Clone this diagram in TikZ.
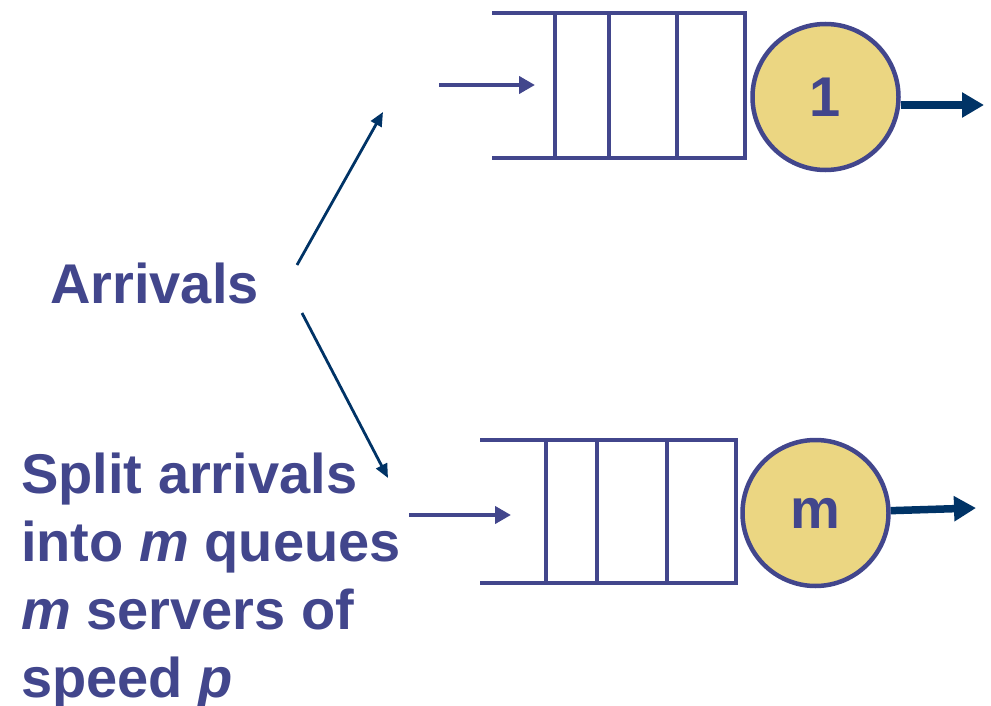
\documentclass[tikz,border=0pt]{standalone}
\usepackage{fontspec}
\setmainfont{Liberation Sans}
\usetikzlibrary{arrows.meta}
\definecolor{qblue}{RGB}{66,70,140}
\definecolor{navy}{RGB}{0,51,102}
\definecolor{srvfill}{RGB}{235,214,130}
\begin{document}
\begin{tikzpicture}[x=1pt,y=-1pt,
  qline/.style={draw=qblue,line width=4.5pt},
  server/.style={circle,draw=qblue,line width=4.5pt,fill=srvfill,minimum size=146pt,inner sep=0pt,text=qblue,font=\fontsize{56}{66}\selectfont\bfseries},
  inarrow/.style={draw=qblue,line width=4.5pt,-{Triangle[length=16pt,width=17pt]}},
  outarrow/.style={draw=navy,line width=7.5pt,-{Triangle[length=22pt,width=24pt]}},
  diagarrow/.style={draw=navy,line width=2.8pt,-{Triangle[length=14pt,width=12pt]}},
  txt/.style={anchor=base west,inner sep=0pt,text=qblue,font=\fontsize{56}{67}\selectfont\bfseries}]
\path[use as bounding box] (0,0) rectangle (991,706);

% top queue
\draw[qline] (492,13) -- (555,13) (492,158) -- (555,158);
\draw[qline] (555,13) rectangle (609,158);
\draw[qline] (609,13) rectangle (677,158);
\draw[qline] (677,13) rectangle (745,158);
\node[server] (s1) at (825.5,97) {1};

% bottom queue
\draw[qline] (480,440) -- (546,440) (480,583) -- (546,583);
\draw[qline] (546,440) rectangle (597,583);
\draw[qline] (597,440) rectangle (667,583);
\draw[qline] (667,440) rectangle (736,583);
\node[server] (sm) at (815.5,513) {m};

% coordinates
\coordinate (in1a) at (439,85);
\coordinate (in1b) at (535,85);
\coordinate (out1) at (984,105);
\coordinate (inma) at (409,515);
\coordinate (inmb) at (511,515);
\coordinate (outm) at (976,508);
\coordinate (d1a) at (297,265);
\coordinate (d1b) at (383,112);
\coordinate (d2a) at (302,313);
\coordinate (d2b) at (388,478);

% arrows
\draw[inarrow] (in1a) -- (in1b);
\draw[inarrow] (inma) -- (inmb);
\draw[outarrow] (s1.east |- out1) -- (out1);
\draw[outarrow] (sm) -- (outm);
\draw[diagarrow] (d1a) -- (d1b);
\draw[diagarrow] (d2a) -- (d2b);

% texts
\node[txt] (arr) at (50,303) {Arrivals};
\node[txt] (t1) at (21,493) {Split arrivals};
\node[txt] (t2) at (21,561) {into \textit{m} queues};
\node[txt] (t3) at (21,629) {\textit{m} servers of};
\node[txt] (t4) at (21,697) {speed \textit{p}};
\end{tikzpicture}
\end{document}
